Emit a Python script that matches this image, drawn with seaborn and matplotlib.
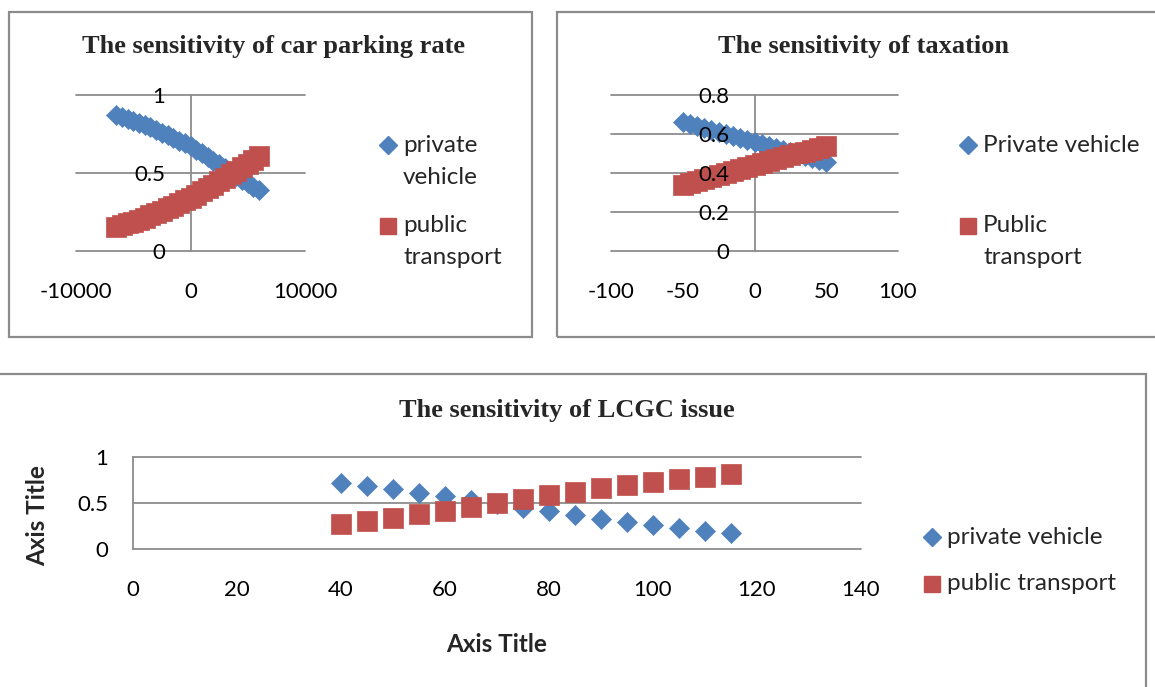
import numpy as np
import pandas as pd
import matplotlib
matplotlib.use("Agg")
import matplotlib.pyplot as plt
import seaborn as sns
from matplotlib.patches import Rectangle
from matplotlib.lines import Line2D

sns.set_style("white")
plt.rcParams["font.family"] = ["Lato", "DejaVu Sans"]
plt.rcParams["axes.unicode_minus"] = False

BLUE = "#4F81BD"
RED = "#C0504D"
GRID = "#8C8C8C"

# car parking rate sensitivity
parking_rate = [-6500, -6000, -5500, -5000, -4500, -4000, -3500, -3000, -2500, -2000,
                -1500, -1000, -500, 0, 500, 1000, 1500, 2000, 2500, 3000,
                3500, 4000, 4500, 5000, 5500, 6000]
parking_private = [0.870, 0.859, 0.847, 0.835, 0.821, 0.807, 0.792, 0.776, 0.759, 0.742,
                   0.725, 0.708, 0.690, 0.672, 0.650, 0.627, 0.604, 0.580, 0.556, 0.531,
                   0.506, 0.481, 0.457, 0.433, 0.410, 0.389]
parking_public = [0.155, 0.166, 0.177, 0.189, 0.201, 0.214, 0.228, 0.243, 0.258, 0.274,
                  0.290, 0.307, 0.324, 0.342, 0.362, 0.383, 0.404, 0.426, 0.448, 0.470,
                  0.492, 0.514, 0.536, 0.559, 0.584, 0.610]

# taxation sensitivity
tax_rate = [-50, -45, -40, -35, -30, -25, -20, -15, -10, -5, 0,
            5, 10, 15, 20, 25, 30, 35, 40, 45, 50]
tax_private = [0.660, 0.650, 0.640, 0.630, 0.620, 0.610, 0.600, 0.590, 0.580, 0.570, 0.560,
               0.550, 0.540, 0.529, 0.519, 0.508, 0.498, 0.487, 0.477, 0.466, 0.456]
tax_public = [0.340, 0.350, 0.360, 0.370, 0.380, 0.390, 0.400, 0.410, 0.420, 0.430, 0.440,
              0.450, 0.460, 0.470, 0.480, 0.490, 0.500, 0.510, 0.520, 0.530, 0.540]

# LCGC issue sensitivity
lcgc_x = [40, 45, 50, 55, 60, 65, 70, 75, 80, 85, 90, 95, 100, 105, 110, 115]
lcgc_private = [0.716, 0.680, 0.647, 0.612, 0.576, 0.534, 0.492, 0.450,
                0.410, 0.370, 0.327, 0.295, 0.259, 0.230, 0.200, 0.176]
lcgc_public = [0.273, 0.306, 0.342, 0.381, 0.417, 0.457, 0.496, 0.540,
               0.583, 0.619, 0.658, 0.694, 0.730, 0.759, 0.784, 0.813]

W, H = 1155, 687
fig = plt.figure(figsize=(W / 100, H / 100), dpi=100)


def fx(px):
    return px / W


def fy(py):
    return 1 - py / H


def add_ax(x0, x1, ytop, ybot):
    return fig.add_axes([fx(x0), fy(ybot), (x1 - x0) / W, (ybot - ytop) / H])


def box(x0, y0, x1, y1):
    fig.add_artist(Rectangle((fx(x0), fy(y1)), (x1 - x0) / W, (y1 - y0) / H,
                             transform=fig.transFigure, fill=False,
                             edgecolor=GRID, linewidth=1.6))


def draw(ax, x, private, public, xlim, ylim, xticks, yticks, ylabels):
    df = pd.DataFrame({"x": x, "private": private, "public": public})
    sns.scatterplot(data=df, x="x", y="private", ax=ax, marker="D", s=104,
                    color=BLUE, edgecolor=BLUE, linewidth=0.5, zorder=3, clip_on=False)
    sns.scatterplot(data=df, x="x", y="public", ax=ax, marker="s", s=200,
                    color=RED, edgecolor=RED, linewidth=0.5, zorder=4, clip_on=False)
    ax.set_xlim(xlim)
    ax.set_ylim(ylim)
    ax.set_xticks(xticks)
    ax.set_yticks(yticks)
    ax.set_yticklabels(ylabels)
    ax.set_xlabel("")
    ax.set_ylabel("")
    for s in ["top", "right", "bottom"]:
        ax.spines[s].set_visible(False)
    ax.spines["left"].set_position(("data", 0))
    ax.spines["left"].set_color(GRID)
    ax.spines["left"].set_linewidth(1.3)
    ax.spines["left"].set_zorder(1)
    for yv in yticks:
        ax.axhline(yv, color=GRID, linewidth=1.3, zorder=1, clip_on=False)
    ax.tick_params(axis="both", length=0, labelsize=16, colors="black")
    ax.tick_params(axis="y", pad=18)
    ax.tick_params(axis="x", pad=22)
    # tick labels sit on top of the markers, as in the original
    ax.yaxis.set_zorder(6)
    ax.patch.set_alpha(0)


def legend_item(x, y, marker, color, lines, pitch):
    ms = 9.2 if marker == "D" else 12
    fig.add_artist(Line2D([fx(x)], [fy(y)], transform=fig.transFigure, marker=marker,
                          markersize=ms, color=color, linestyle=""))
    for i, t in enumerate(lines):
        fig.text(fx(x + 15), fy(y + i * pitch), t, ha="left", va="center", fontsize=17.5)


# boxes
box(9, 12, 532, 337)
box(557, 12, 1170, 337)
box(-10, 374, 1146, 700)

title_kw = dict(ha="center", va="center", fontsize=19, fontweight="bold",
                family="Liberation Serif")

# car parking rate
ax1 = add_ax(76, 305, 95, 251)
draw(ax1, parking_rate, parking_private, parking_public, (-10000, 10000), (0, 1),
     [-10000, 0, 10000], [0, 0.5, 1], ["0", "0.5", "1"])
fig.text(fx(273), fy(47), "The sensitivity of car parking rate", **title_kw)
legend_item(388, 145, "D", BLUE, ["private", "vehicle"], 33)
legend_item(388, 226, "s", RED, ["public", "transport"], 32)

# taxation
ax2 = add_ax(611, 898, 95, 251)
draw(ax2, tax_rate, tax_private, tax_public, (-100, 100), (0, 0.8),
     [-100, -50, 0, 50, 100], [0, 0.2, 0.4, 0.6, 0.8], ["0", "0.2", "0.4", "0.6", "0.8"])
fig.text(fx(863), fy(47), "The sensitivity of taxation", **title_kw)
legend_item(968, 145, "D", BLUE, ["Private vehicle"], 33)
legend_item(968, 226, "s", RED, ["Public", "transport"], 32)

# LCGC issue
ax3 = add_ax(133, 861, 457, 549)
draw(ax3, lcgc_x, lcgc_private, lcgc_public, (0, 140), (0, 1),
     [0, 20, 40, 60, 80, 100, 120, 140], [0, 0.5, 1], ["0", "0.5", "1"])
fig.text(fx(567), fy(410), "The sensitivity of LCGC issue", **title_kw)
fig.text(fx(497), fy(645), "Axis Title", ha="center", va="center",
         fontsize=17.5, fontweight="bold")
fig.text(fx(38), fy(516), "Axis Title", ha="center", va="center", rotation=90,
         fontsize=17.5, fontweight="bold")
legend_item(932, 537, "D", BLUE, ["private vehicle"], 0)
legend_item(932, 584, "s", RED, ["public transport"], 0)

fig.savefig("out.png", dpi=100)
